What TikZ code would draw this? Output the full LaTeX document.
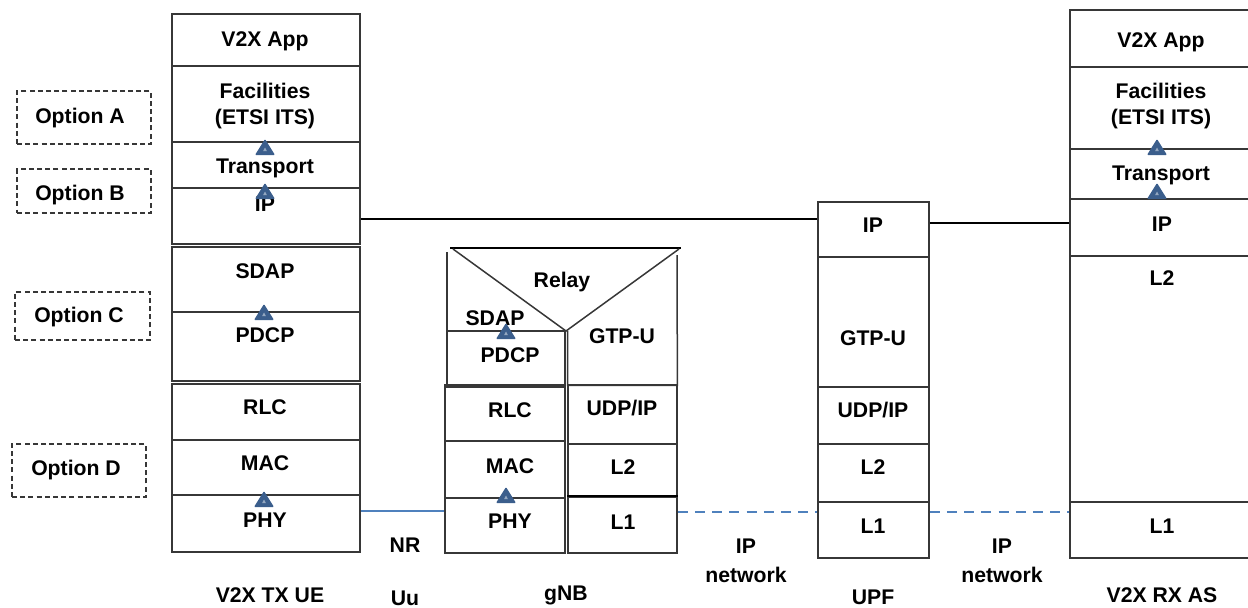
\documentclass[tikz,border=0pt]{standalone}
\usepackage{fontspec}
\setmainfont{Liberation Sans}
\usetikzlibrary{fit}
\definecolor{boxc}{RGB}{55,55,55}
\definecolor{tric}{RGB}{59,94,140}
\definecolor{lnblue}{RGB}{79,129,189}
\begin{document}
\begin{tikzpicture}[x=0.5pt,y=-0.5pt,
  lbox/.style={draw=boxc, line width=0.75pt, inner sep=0pt, fit={#1}},
  area/.style={inner sep=0pt, fit={#1}},
  optbox/.style={draw=boxc, line width=0.6pt, dash pattern=on 2.5pt off 1.6pt, inner sep=0pt, fit={#1}},
  txt/.style={anchor=base, inner sep=0pt, font=\bfseries\fontsize{10.6}{12}\selectfont},
  edge/.style={draw=boxc, line width=0.75pt},
  ipline/.style={draw=black, line width=1pt},
  nrline/.style={draw=lnblue, line width=1pt},
  netline/.style={draw=lnblue, line width=1pt, dash pattern=on 5pt off 3.6pt},
  tri/.pic={\fill[tric, rounded corners=0.5pt] (-10,0) -- (10,0) -- (0,-16) -- cycle;
            \fill[tric!55!white] (-1.8,-4) -- (1.8,-4) -- (0,-7.5) -- cycle;}
]
\useasboundingbox (0,0) rectangle (1248,607);
\clip (0,0) rectangle (1248,607);

% ---------- Option boxes ----------
\node[optbox={(17,91)(151,144)}] (opta) {};
\node[optbox={(17,169)(151,213)}] (optb) {};
\node[optbox={(15,292)(150,340)}] (optc) {};
\node[optbox={(12,444)(146,497)}] (optd) {};
\node[txt] (optat) at (80,123) {Option A};
\node[txt] (optbt) at (80,200) {Option B};
\node[txt] (optct) at (79,322) {Option C};
\node[txt] (optdt) at (76,475) {Option D};

% ---------- V2X TX UE ----------
\node[lbox={(172,14)(360,66)}] (ueapp) {};
\node[lbox={(172,66)(360,142)}] (uefac) {};
\node[lbox={(172,142)(360,188)}] (uetr) {};
\node[lbox={(172,188)(360,244)}] (ueip) {};
\node[lbox={(172,247)(360,312)}] (uesdap) {};
\node[lbox={(172,312)(360,381)}] (uepdcp) {};
\node[lbox={(172,384)(360,440)}] (uerlc) {};
\node[lbox={(172,440)(360,495)}] (uemac) {};
\node[lbox={(172,495)(360,552)}] (uephy) {};
\node[txt] (ueappt) at (265,46) {V2X App};
\node[txt] (uefact) at (265,98) {Facilities};
\node[txt] (uefact2) at (265,124) {(ETSI ITS)};
\node[txt] (uetrt) at (265,173) {Transport};
\node[txt] (ueipt) at (265,211) {IP};
\node[txt] (uesdapt) at (265,278) {SDAP};
\node[txt] (uepdcpt) at (265,342) {PDCP};
\node[txt] (uerlct) at (265,414) {RLC};
\node[txt] (uemact) at (265,470) {MAC};
\node[txt] (uephyt) at (265,527) {PHY};
\pic at (265,155) {tri};
\pic at (265,199) {tri};
\pic at (264,320) {tri};
\pic at (264,507) {tri};
\node[txt] (uelabel) at (270,602) {V2X TX UE};

% ---------- NR Uu ----------
\node[txt] (nrt) at (405,552) {NR};
\node[txt] (uut) at (405,605) {Uu};

% ---------- gNB ----------
\node[area={(447,248)(681,331)}] (gnbrelay) {};
\draw[line width=1pt, black] (450,248) -- (681,248);
\draw[edge] (453,249) -- (566,331) -- (679,249);
\draw[edge] (447,252) -- (447,331);
\node[lbox={(447,331)(565,387)}] (gnbpdcp) {};
\node[lbox={(445,385)(565,441)}] (gnbrlc) {};
\node[lbox={(445,441)(565,498)}] (gnbmac) {};
\node[lbox={(445,498)(565,553)}] (gnbphy) {};
\node[area={(568,331)(677,385)}] (gnbgtp) {};
\draw[edge] (gnbgtp.north west) -- (gnbgtp.south west) -- (gnbgtp.south east) -- (677,255);
\node[lbox={(568,385)(677,444)}] (gnbudp) {};
\node[lbox={(568,444)(677,497)}] (gnbl2) {};
\node[lbox={(568,497)(677,553)}] (gnbl1) {};
\draw[line width=1pt, black] (gnbl1.north west) -- (gnbl1.north east);
\node[txt] (relayt) at (562,287) {Relay};
\node[txt] (gnbsdapt) at (495,325) {SDAP};
\node[txt] (gnbpdcpt) at (510,362) {PDCP};
\node[txt] (gnbgtpt) at (622,343) {GTP-U};
\node[txt] (gnbrlct) at (510,417) {RLC};
\node[txt] (gnbudpt) at (622,415) {UDP/IP};
\node[txt] (gnbmact) at (510,473) {MAC};
\node[txt] (gnbl2t) at (623,474) {L2};
\node[txt] (gnbphyt) at (510,528) {PHY};
\node[txt] (gnbl1t) at (623,529) {L1};
\pic at (506,339) {tri};
\pic at (506,503) {tri};
\node[txt] (gnblabel) at (566,600) {gNB};

% ---------- IP network labels ----------
\node[txt] (net1a) at (746,553) {IP};
\node[txt] (net1b) at (746,582) {network};
\node[txt] (net2a) at (1002,553) {IP};
\node[txt] (net2b) at (1002,582) {network};

% ---------- UPF ----------
\node[lbox={(818,202)(929,257)}] (upfip) {};
\node[lbox={(818,257)(929,387)}] (upfgtp) {};
\node[lbox={(818,387)(929,444)}] (upfudp) {};
\node[lbox={(818,444)(929,502)}] (upfl2) {};
\node[lbox={(818,502)(929,558)}] (upfl1) {};
\node[txt] (upfipt) at (873,232) {IP};
\node[txt] (upfgtpt) at (873,345) {GTP-U};
\node[txt] (upfudpt) at (873,417) {UDP/IP};
\node[txt] (upfl2t) at (873,474) {L2};
\node[txt] (upfl1t) at (873,533) {L1};
\node[txt] (upflabel) at (873,604) {UPF};

% ---------- V2X RX AS ----------
\node[lbox={(1070,10)(1256,67)}] (rxapp) {};
\node[lbox={(1070,67)(1256,149)}] (rxfac) {};
\node[lbox={(1070,149)(1256,199)}] (rxtr) {};
\node[lbox={(1070,199)(1256,256)}] (rxip) {};
\node[lbox={(1070,256)(1256,502)}] (rxl2) {};
\node[lbox={(1070,502)(1256,558)}] (rxl1) {};
\node[txt] (rxappt) at (1161,47) {V2X App};
\node[txt] (rxfact) at (1161,98) {Facilities};
\node[txt] (rxfact2) at (1161,124) {(ETSI ITS)};
\node[txt] (rxtrt) at (1161,180) {Transport};
\node[txt] (rxipt) at (1162,231) {IP};
\node[txt] (rxl2t) at (1162,285) {L2};
\node[txt] (rxl1t) at (1162,533) {L1};
\pic at (1157,155) {tri};
\pic at (1157,199) {tri};
\node[txt] (rxlabel) at (1162,602) {V2X RX AS};

% ---------- connectors ----------
\coordinate (ipA) at (0,219);
\coordinate (ipB) at (0,223);
\coordinate (nrY) at (0,511);
\coordinate (l1Y) at (0,512);
\draw[ipline] (ueip.east |- ipA) -- (upfip.west |- ipA);
\draw[ipline] (upfip.east |- ipB) -- (rxip.west |- ipB);
\draw[nrline] (uephy.east |- nrY) -- (gnbphy.west |- nrY);
\draw[netline] (gnbl1.east |- l1Y) -- (upfl1.west |- l1Y);
\draw[netline] (upfl1.east |- l1Y) -- (rxl1.west |- l1Y);
\end{tikzpicture}
\end{document}
